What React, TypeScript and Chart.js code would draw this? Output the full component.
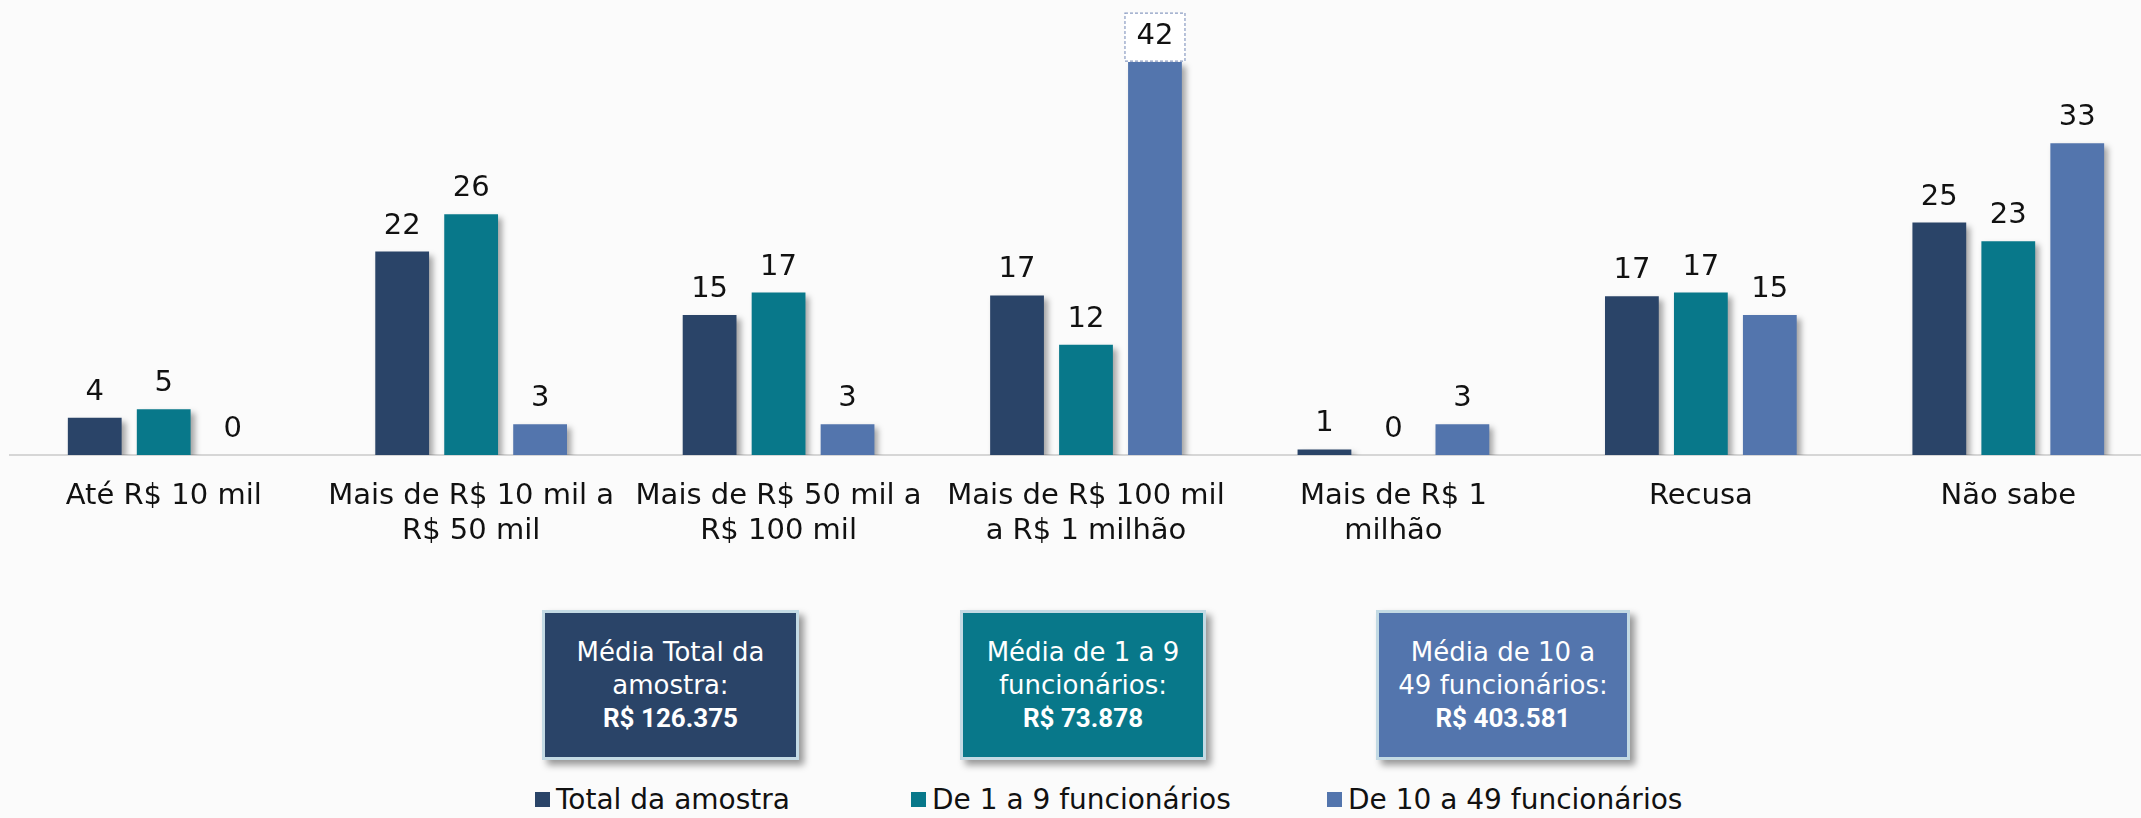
import React, { useEffect, useRef } from "react";
import { Chart, registerables } from "chart.js";

Chart.register(...registerables);

const categories: string[][] = [
  ["Até R$ 10 mil"],
  ["Mais de R$ 10 mil a", "R$ 50 mil"],
  ["Mais de R$ 50 mil a", "R$ 100 mil"],
  ["Mais de R$ 100 mil", "a R$ 1 milhão"],
  ["Mais de R$ 1", "milhão"],
  ["Recusa"],
  ["Não sabe"],
];

const seriesNames = ["Total da amostra", "De 1 a 9 funcionários", "De 10 a 49 funcionários"];
const totalValues = [4.0, 21.8, 15.0, 17.1, 0.6, 17.0, 24.9];
const smallValues = [4.9, 25.8, 17.4, 11.8, 0, 17.4, 22.9];
const mediumValues = [0, 3.3, 3.3, 42.1, 3.3, 15.0, 33.4];
const seriesColors = ["#2a4468", "#08788a", "#5375ad"];

const averageBoxes = [
  { lines: ["Média Total da", "amostra:"], value: "R$ 126.375" },
  { lines: ["Média de 1 a 9", "funcionários:"], value: "R$ 73.878" },
  { lines: ["Média de 10 a", "49 funcionários:"], value: "R$ 403.581" },
];

const FONT = "'DejaVu Sans', sans-serif";

const shadowAndLabels = {
  id: "shadowAndLabels",
  beforeDatasetsDraw(chart: any) {
    const ctx = chart.ctx;
    ctx.save();
    ctx.shadowColor = "rgba(0,0,0,0.35)";
    ctx.shadowBlur = 6;
    ctx.shadowOffsetX = 4;
    ctx.shadowOffsetY = 4;
  },
  afterDatasetsDraw(chart: any) {
    const ctx = chart.ctx;
    ctx.restore();
    ctx.save();
    ctx.font = `29px ${FONT}`;
    ctx.fillStyle = "#111111";
    ctx.textAlign = "center";
    ctx.textBaseline = "alphabetic";
    chart.data.datasets.forEach((ds: any, di: number) => {
      const meta = chart.getDatasetMeta(di);
      meta.data.forEach((el: any, i: number) => {
        const v = ds.data[i];
        const x = el.x;
        const y = el.y;
        if (di === 2 && i === 3) {
          ctx.save();
          ctx.fillStyle = "#ffffff";
          ctx.fillRect(x - 30, y - 49, 60, 48);
          ctx.setLineDash([3, 2]);
          ctx.strokeStyle = "#8a9cc2";
          ctx.lineWidth = 1.2;
          ctx.strokeRect(x - 30, y - 49, 60, 48);
          ctx.restore();
        }
        ctx.fillText(String(Math.round(v)), x, y - 18);
      });
    });
    ctx.restore();
  },
};

export default function App() {
  const canvasRef = useRef<HTMLCanvasElement | null>(null);

  useEffect(() => {
    document.body.style.margin = "0";
    const canvas = canvasRef.current!;
    const chart = new Chart(canvas, {
      type: "bar",
      data: {
        labels: categories,
        datasets: [totalValues, smallValues, mediumValues].map((d, i) => ({
          label: seriesNames[i],
          data: d,
          backgroundColor: seriesColors[i],
          borderWidth: 0,
          categoryPercentage: 0.673,
          barPercentage: 0.78,
        })),
      },
      options: {
        animation: false,
        responsive: false,
        devicePixelRatio: 1,
        layout: { padding: { left: 10, right: 0, top: 0, bottom: 0 } },
        plugins: {
          legend: { display: false },
          tooltip: { enabled: false },
        },
        scales: {
          x: {
            grid: { display: false, drawTicks: false },
            border: { display: true, color: "#d6d6d6", width: 2 },
            ticks: {
              color: "#111111",
              font: { family: FONT, size: 29 },
              padding: 24,
              maxRotation: 0,
              autoSkip: false,
            },
            afterFit(scale: any) {
              scale.height = 125;
            },
          },
          y: {
            display: false,
            min: 0,
            max: 48.75,
          },
        },
      },
      plugins: [shadowAndLabels],
    });
    return () => chart.destroy();
  }, []);

  return (
    <div
      style={{
        position: "absolute",
        left: 0,
        top: 0,
        width: 2141,
        height: 818,
        overflow: "hidden",
        background: "#fbfbfb",
      }}
    >
      <canvas
        ref={canvasRef}
        width={2162}
        height={580}
        style={{ position: "absolute", left: 0, top: 0, width: 2162, height: 580 }}
      />
      {averageBoxes.map((b, i) => {
        const lefts = [542, 960, 1376];
        const widths = [257, 246, 254];
        return (
          <div
            key={i}
            style={{
              position: "absolute",
              left: lefts[i],
              top: 610,
              width: widths[i],
              height: 150,
              boxSizing: "border-box",
              background: seriesColors[i],
              border: "3px solid #c3dae4",
              boxShadow: "5px 5px 7px rgba(0,0,0,0.4)",
              color: "#ffffff",
              display: "flex",
              flexDirection: "column",
              alignItems: "center",
              justifyContent: "center",
              textAlign: "center",
              fontFamily: FONT,
              fontSize: 26,
              lineHeight: "33px",
            }}
          >
            {b.lines.map((l, j) => (
              <div key={j}>{l}</div>
            ))}
            <div style={{ fontFamily: "Roboto, sans-serif", fontWeight: 700, fontSize: 26 }}>{b.value}</div>
          </div>
        );
      })}
      {seriesNames.map((n, i) => {
        const lefts = [535, 911, 1327];
        return (
          <div
            key={n}
            style={{
              position: "absolute",
              left: lefts[i],
              top: 781,
              height: 36,
              display: "flex",
              alignItems: "center",
              fontFamily: FONT,
              fontSize: 28,
              color: "#111111",
              whiteSpace: "nowrap",
            }}
          >
            <span
              style={{
                display: "inline-block",
                width: 15,
                height: 15,
                background: seriesColors[i],
                marginRight: 6,
              }}
            />
            {n}
          </div>
        );
      })}
    </div>
  );
}
